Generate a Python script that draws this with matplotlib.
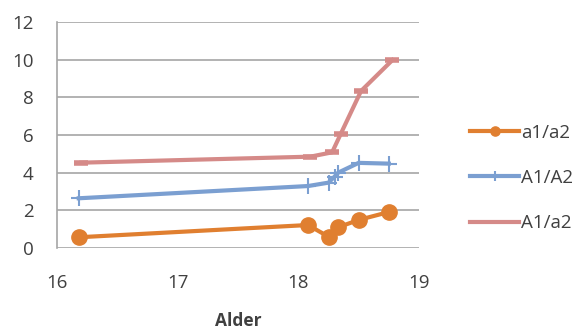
import matplotlib
matplotlib.use("Agg")
import matplotlib.pyplot as plt

plt.rcParams['font.family'] = ['Open Sans', 'DejaVu Sans']

alder = [16.18, 18.08, 18.25, 18.33, 18.50, 18.75]
a1_a2 = [0.57, 1.22, 0.60, 1.10, 1.49, 1.91]
A1_A2_x = [16.18, 18.08, 18.25, 18.30, 18.33, 18.50, 18.75]
A1_A2 = [2.64, 3.29, 3.47, 3.79, 4.00, 4.52, 4.48]
A1_a2_x = [16.20, 18.10, 18.28, 18.35, 18.52, 18.78]
A1_a2 = [4.53, 4.85, 5.08, 6.04, 8.34, 9.98]

orange = '#e07f30'
blue = '#7b9fd1'
pink = '#d58a88'
grid = '#a6a6a6'
text = '#404040'

fig = plt.figure(figsize=(5.88, 3.31), dpi=100)
ax = fig.add_axes([57/588, 1 - 248/331, (419-57)/588, (248-22)/331])

ax.plot(alder, a1_a2, color=orange, lw=3, marker='o', ms=11, label='a1/a2', zorder=3)
ax.plot(A1_A2_x, A1_A2, color=blue, lw=3, marker='+', ms=12, mew=1.5, label='A1/A2', zorder=3)
ax.plot(A1_a2_x, A1_a2, color=pink, lw=3, marker='_', ms=10, mew=4, label='A1/a2', zorder=3)

ax.set_xlim(16, 19)
ax.set_ylim(0, 12)
ax.set_xticks([16, 17, 18, 19])
ax.set_yticks(range(0, 13, 2))
ax.yaxis.grid(True, color=grid, lw=1.2)
ax.set_axisbelow(True)
for s in ['top', 'right', 'bottom']:
    ax.spines[s].set_visible(False)
ax.spines['left'].set_color(grid)
ax.spines['left'].set_linewidth(1.2)
ax.tick_params(length=0, labelsize=13.5, colors=text)
ax.tick_params(axis='y', pad=17)
ax.tick_params(axis='x', pad=19)
ax.set_xlabel('Alder', fontsize=12.5, fontweight='bold', color=text, labelpad=14)

leg = ax.legend(loc='center left', bbox_to_anchor=(1.14, 0.31), frameon=False,
                fontsize=13.5, handlelength=2.65, handletextpad=0.1,
                labelspacing=1.45, labelcolor=text, markerscale=0.6,
                borderpad=0, borderaxespad=0)
leg.legend_handles[2].set_marker('None')

fig.savefig('out.png', dpi=100)
